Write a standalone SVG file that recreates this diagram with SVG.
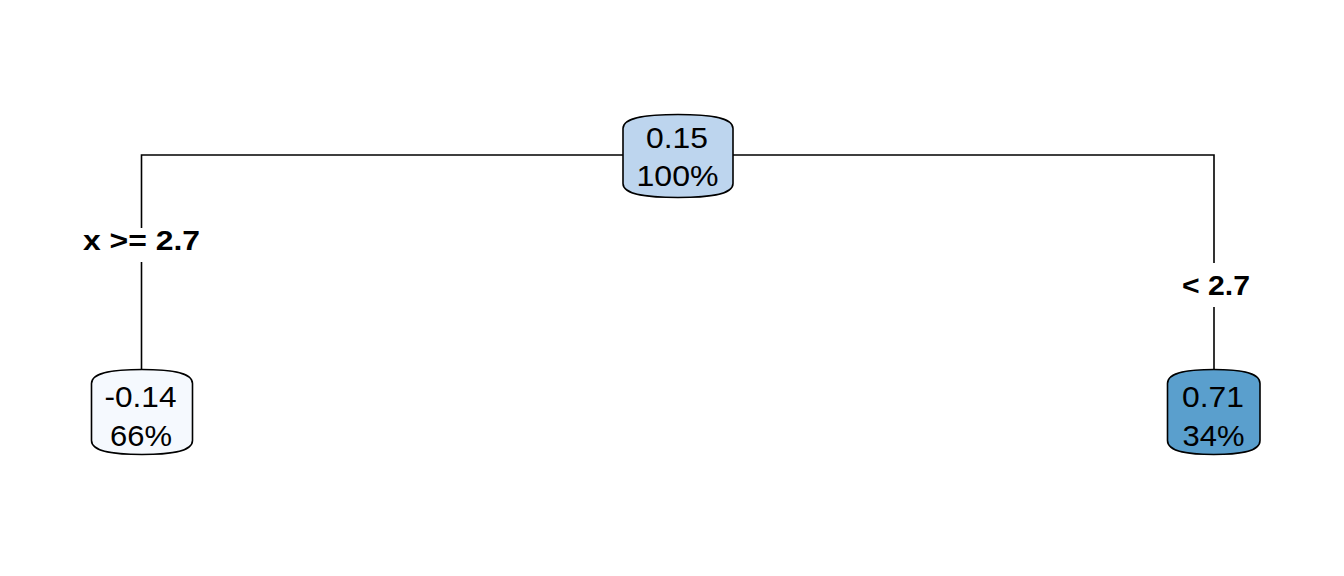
<svg xmlns="http://www.w3.org/2000/svg" width="1344" height="576" viewBox="0 0 1344 576">
  <style>
    .node { stroke: #000; stroke-width: 1.6; }
    .val { font-family: "Liberation Sans", Arial, sans-serif; font-size: 30px; fill: #000; text-anchor: middle; }
    .lab { font-family: "Liberation Sans", Arial, sans-serif; font-size: 27px; font-weight: bold; fill: #000; text-anchor: middle; }
    .edge { fill: none; stroke: #000; stroke-width: 1.6; }
  </style>
  <rect x="0" y="0" width="1344" height="576" fill="#fff"/>
  <g id="connectors">
    <path class="edge" d="M623,155 L141.5,155 L141.5,228"/>
    <path class="edge" d="M141.5,262 L141.5,370"/>
    <path class="edge" d="M733,155 L1214,155 L1214,263"/>
    <path class="edge" d="M1214,307 L1214,370"/>
    <text class="lab" x="141.5" y="250" textLength="117" lengthAdjust="spacingAndGlyphs">x &gt;= 2.7</text>
    <text class="lab" x="1216" y="295" textLength="68" lengthAdjust="spacingAndGlyphs">&lt; 2.7</text>
  </g>
  <g id="node-root">
    <path class="node" fill="#BDD5EE" d="M623,128.5 C623,116.5 650,114.5 678,114.5 C706,114.5 733,116.5 733,128.5 L733,183.5 C733,195.5 706,197.5 678,197.5 C650,197.5 623,195.5 623,183.5 Z"/>
    <text class="val" x="677" y="147.5" textLength="62" lengthAdjust="spacingAndGlyphs">0.15</text>
    <text class="val" x="677.5" y="185.5" textLength="82" lengthAdjust="spacingAndGlyphs">100%</text>
  </g>
  <g id="node-left">
    <path class="node" fill="#F5F9FE" d="M91.5,383.5 C91.5,371.5 117,369.5 142,369.5 C167,369.5 192.5,371.5 192.5,383.5 L192.5,440.5 C192.5,452.5 167,454.5 142,454.5 C117,454.5 91.5,452.5 91.5,440.5 Z"/>
    <text class="val" x="140.5" y="406.5" textLength="72" lengthAdjust="spacingAndGlyphs">-0.14</text>
    <text class="val" x="141" y="445.5" textLength="62" lengthAdjust="spacingAndGlyphs">66%</text>
  </g>
  <g id="node-right">
    <path class="node" fill="#5A9FCD" d="M1167.5,383.5 C1167.5,371.5 1191,369.5 1213.75,369.5 C1236.5,369.5 1260,371.5 1260,383.5 L1260,440.5 C1260,452.5 1236.5,454.5 1213.75,454.5 C1191,454.5 1167.5,452.5 1167.5,440.5 Z"/>
    <text class="val" x="1213" y="406.5" textLength="62" lengthAdjust="spacingAndGlyphs">0.71</text>
    <text class="val" x="1213.5" y="445.5" textLength="62" lengthAdjust="spacingAndGlyphs">34%</text>
  </g>
</svg>
